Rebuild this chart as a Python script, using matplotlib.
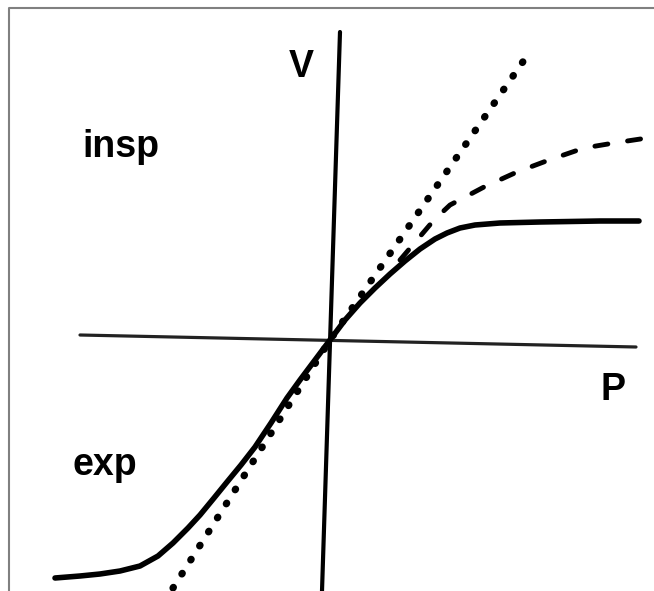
import matplotlib
matplotlib.use('Agg')
import matplotlib.pyplot as plt
from matplotlib.lines import Line2D

# pressure-volume sketch, values (arbitrary units)
solid_p = [-2.75, -2.50, -2.30, -2.10, -1.90, -1.72, -1.57, -1.42, -1.30, -1.16,
           -1.03, -0.89, -0.75, -0.59, -0.43, -0.30, -0.15, 0.0,
           0.15, 0.30, 0.45, 0.60, 0.75, 0.90, 1.05, 1.17, 1.30, 1.45, 1.70,
           2.10, 2.70, 3.09]
solid_v = [-2.38, -2.36, -2.34, -2.31, -2.26, -2.16, -2.03, -1.88, -1.75, -1.58,
           -1.42, -1.25, -1.07, -0.83, -0.58, -0.40, -0.20, 0.0,
           0.20, 0.37, 0.52, 0.66, 0.79, 0.91, 1.01, 1.07, 1.12, 1.15, 1.17,
           1.18, 1.19, 1.19]

dash_p = [0.70, 1.04, 1.20, 1.54, 1.87, 2.19, 2.54, 2.84, 3.17]
dash_v = [0.80, 1.20, 1.35, 1.53, 1.68, 1.80, 1.92, 1.97, 2.02]

dot_p = [-1.57, 0.0, 1.99]
dot_v = [-2.48, 0.0, 2.87]

haxis_p = [-2.50, 3.06]
haxis_v = [0.05, -0.07]
vaxis_p = [0.10, -0.08]
vaxis_v = [3.08, -2.51]

fig = plt.figure(figsize=(6.54, 5.91), dpi=100)
ax = fig.add_axes([0, 0, 1, 1])
ax.set_xlim(-3.30, 3.24)
ax.set_ylim(-2.51, 3.40)
ax.axis('off')

ax.plot(haxis_p, haxis_v, color='#222222', lw=2.3, solid_capstyle='round')
ax.plot(vaxis_p, vaxis_v, color='black', lw=3, solid_capstyle='round')

ax.plot(solid_p, solid_v, color='black', lw=4, solid_capstyle='round',
        solid_joinstyle='round')
ax.plot(dash_p, dash_v, color='black', lw=3.5, linestyle=(0, (2.7, 4.1)),
        dash_capstyle='round')
ax.plot(dot_p, dot_v, color='black', lw=5.2, linestyle=(0, (0.1, 2.2)),
        dash_capstyle='round')

font = dict(family='Liberation Sans', fontweight='bold', fontsize=27, color='black')
ax.text(-0.29, 2.63, 'V', ha='center', va='baseline', **font)
ax.text(-2.48, 1.83, 'insp', ha='left', va='baseline', **font)
ax.text(-2.58, -1.35, 'exp', ha='left', va='baseline', **font)
ax.text(2.83, -0.60, 'P', ha='center', va='baseline', **font)

# grey frame on the top and left edges
fig.add_artist(Line2D([9 / 654, 9 / 654, 1.0], [0.0, 1 - 8 / 591, 1 - 8 / 591],
                      transform=fig.transFigure, color='#808080', lw=1.5))

fig.savefig('out.png', dpi=100)
